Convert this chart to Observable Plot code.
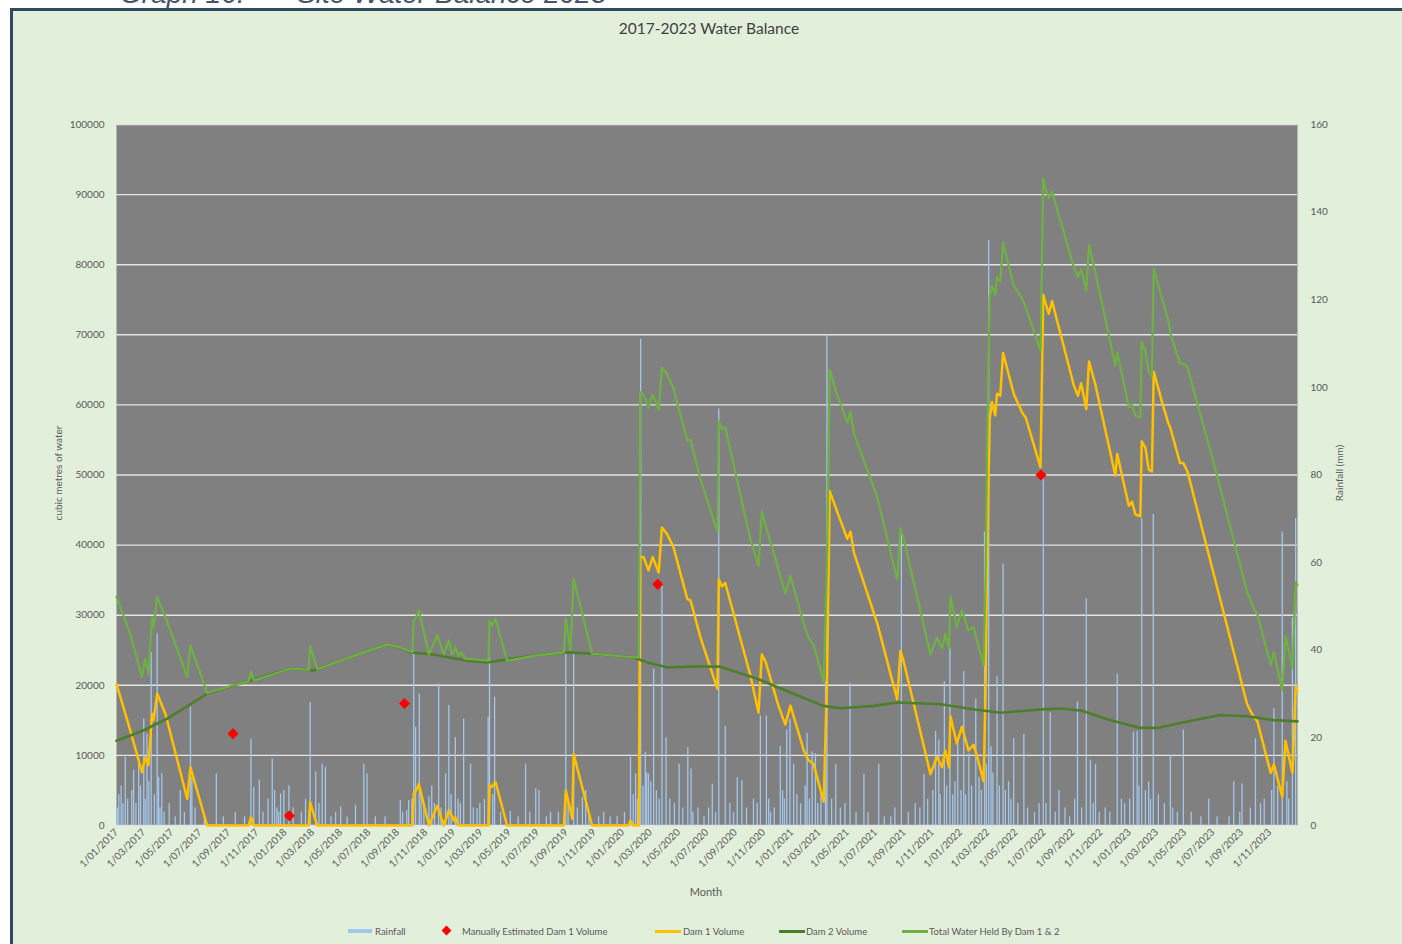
<!DOCTYPE html>
<html><head><meta charset="utf-8">
<script src="https://cdn.jsdelivr.net/npm/d3@7"></script>
<script src="https://cdn.jsdelivr.net/npm/@observablehq/plot@0.6"></script>
<style>
html,body{margin:0;padding:0;background:#fff;width:1402px;height:944px;overflow:hidden;font-family:Lato,"Open Sans",sans-serif;}
#frame{position:absolute;left:10px;top:8px;width:1400px;height:950px;border:3px solid #2f4a5c;background:#e2efda;box-sizing:border-box;}
.cap{position:absolute;top:-20px;font:italic 28px "Liberation Sans",Arial,sans-serif;line-height:28px;color:#44546a;white-space:pre;}
#chart{position:absolute;left:0;top:0;}
#title{position:absolute;left:0;width:1418px;top:19px;text-align:center;font-size:15.5px;color:#404040;}
.atitle{position:absolute;font-size:10px;color:#595959;white-space:nowrap;transform:translate(-50%,-50%) rotate(-90deg);}
#month{position:absolute;left:706px;top:891px;transform:translate(-50%,-50%);font-size:11px;color:#595959;}
.lt{position:absolute;top:931px;transform:translateY(-50%);font-size:9.5px;color:#595959;white-space:nowrap;}
.sw{position:absolute;}
</style></head>
<body>
<div class="cap" style="left:120px">Graph 16:</div>
<div class="cap" style="left:297px">Site Water Balance 2023</div>
<div id="frame"></div>
<div id="chart"></div>
<div id="title">2017-2023 Water Balance</div>
<div class="atitle" style="left:58px;top:473px">cubic metres of water</div>
<div class="atitle" style="left:1339px;top:473px">Rainfall (mm)</div>
<div id="month">Month</div>
<span class="sw" style="left:348px;top:929px;width:24px;height:4px;background:#a3c6ea"></span>
<span class="lt" style="left:375px">Rainfall</span>
<span class="sw" style="left:443px;top:927px;width:7px;height:7px;background:#ff0000;transform:rotate(45deg)"></span>
<span class="lt" style="left:462px">Manually Estimated Dam 1 Volume</span>
<span class="sw" style="left:655px;top:930px;width:26px;height:2.5px;background:#ffc000"></span>
<span class="lt" style="left:683px">Dam 1 Volume</span>
<span class="sw" style="left:779px;top:930px;width:26px;height:2.5px;background:#4f7e2b"></span>
<span class="lt" style="left:806px">Dam 2 Volume</span>
<span class="sw" style="left:902px;top:930px;width:26px;height:2.5px;background:#6fb043"></span>
<span class="lt" style="left:929px">Total Water Held By Dam 1 &amp; 2</span>
<script>
const volTicks = [0,10000,20000,30000,40000,50000,60000,70000,80000,90000,100000];
const rainTicks = [0,20,40,60,80,100,120,140,160];
const xTickLabels = ["1/01/2017","1/03/2017","1/05/2017","1/07/2017","1/09/2017","1/11/2017",
"1/01/2018","1/03/2018","1/05/2018","1/07/2018","1/09/2018","1/11/2018",
"1/01/2019","1/03/2019","1/05/2019","1/07/2019","1/09/2019","1/11/2019",
"1/01/2020","1/03/2020","1/05/2020","1/07/2020","1/09/2020","1/11/2020",
"1/01/2021","1/03/2021","1/05/2021","1/07/2021","1/09/2021","1/11/2021",
"1/01/2022","1/03/2022","1/05/2022","1/07/2022","1/09/2022","1/11/2022",
"1/01/2023","1/03/2023","1/05/2023","1/07/2023","1/09/2023","1/11/2023"];

const dam1 = [["2017-01-01",20200],["2017-01-31",13500],["2017-02-25",7600],["2017-03-04",9700],["2017-03-11",8600],["2017-03-19",15900],["2017-03-22",15000],["2017-03-30",18800],["2017-04-17",15900],["2017-06-03",3800],["2017-06-10",8300],["2017-07-16",0],["2017-10-14",0],["2017-10-19",1200],["2017-10-25",0],["2018-02-21",0],["2018-02-24",3300],["2018-03-11",0],["2018-10-03",0],["2018-10-06",4500],["2018-10-13",5200],["2018-10-17",5900],["2018-11-08",0],["2018-11-26",2800],["2018-12-10",0],["2018-12-21",2200],["2019-01-01",700],["2019-01-04",1200],["2019-01-11",0],["2019-03-17",0],["2019-03-19",5700],["2019-03-24",5500],["2019-04-01",6200],["2019-04-26",0],["2019-08-27",0],["2019-08-31",5000],["2019-09-14",950],["2019-09-17",10200],["2019-10-27",0],["2020-01-14",0],["2020-01-18",700],["2020-01-24",0],["2020-02-05",0],["2020-02-08",38300],["2020-02-15",38300],["2020-02-26",36400],["2020-03-06",38300],["2020-03-19",36100],["2020-03-26",42500],["2020-04-06",41600],["2020-04-20",39700],["2020-05-20",32300],["2020-05-27",32100],["2020-06-17",26900],["2020-07-24",19500],["2020-07-27",35100],["2020-08-03",34100],["2020-08-10",34600],["2020-10-03",21500],["2020-10-21",16100],["2020-10-28",24400],["2020-11-05",23400],["2020-12-03",17100],["2020-12-18",14400],["2020-12-29",17100],["2021-01-27",10700],["2021-02-06",9300],["2021-02-17",8800],["2021-03-11",3400],["2021-03-18",20000],["2021-03-24",47700],["2021-04-09",44800],["2021-05-01",40900],["2021-05-08",41900],["2021-05-15",39000],["2021-07-05",28800],["2021-08-17",18000],["2021-08-24",24900],["2021-08-31",23400],["2021-10-28",7300],["2021-11-11",9800],["2021-11-22",8300],["2021-11-29",10700],["2021-12-07",8300],["2021-12-10",15600],["2021-12-24",11700],["2022-01-04",14100],["2022-01-18",10700],["2022-01-29",11500],["2022-02-06",9800],["2022-02-20",6300],["2022-02-24",18500],["2022-02-27",35800],["2022-03-05",57900],["2022-03-10",60400],["2022-03-17",58500],["2022-03-21",61600],["2022-03-28",61300],["2022-04-03",67400],["2022-04-26",61600],["2022-05-15",58800],["2022-05-22",58200],["2022-06-23",51100],["2022-06-29",75700],["2022-07-04",74500],["2022-07-11",73000],["2022-07-18",74800],["2022-09-03",62800],["2022-09-12",61300],["2022-09-19",63100],["2022-09-30",59400],["2022-10-06",66200],["2022-10-20",62800],["2022-12-02",49900],["2022-12-06",53000],["2022-12-31",45600],["2023-01-07",46200],["2023-01-14",44400],["2023-01-25",44100],["2023-01-28",54800],["2023-02-05",53900],["2023-02-12",50800],["2023-02-19",50500],["2023-02-23",64700],["2023-03-13",60400],["2023-03-27",57300],["2023-03-31",56700],["2023-04-21",51700],["2023-04-28",51700],["2023-05-07",50500],["2023-07-03",35800],["2023-09-13",17300],["2023-09-27",15500],["2023-10-05",14900],["2023-11-03",7500],["2023-11-10",8700],["2023-11-28",4100],["2023-12-02",8700],["2023-12-05",12100],["2023-12-16",8700],["2023-12-20",7500],["2023-12-23",12400],["2023-12-27",19800],["2023-12-31",19200]];

const dam2 = [["2017-01-01",12100],["2017-02-28",13550],["2017-04-21",15260],["2017-07-17",18830],["2017-10-03",20400],["2018-01-12",22400],["2018-03-03",22100],["2018-06-20",24700],["2018-08-10",25800],["2018-09-07",25400],["2018-09-29",24700],["2018-11-17",24400],["2019-01-30",23500],["2019-03-14",23250],["2019-06-22",24250],["2019-09-04",24700],["2019-10-29",24500],["2020-01-24",24000],["2020-02-24",23250],["2020-04-07",22550],["2020-05-25",22660],["2020-07-30",22660],["2020-10-17",20960],["2020-12-28",19000],["2021-03-10",17060],["2021-04-16",16720],["2021-06-27",17060],["2021-08-18",17550],["2021-11-20",17300],["2022-01-28",16580],["2022-03-28",16090],["2022-06-25",16560],["2022-08-07",16700],["2022-09-21",16380],["2022-11-14",15150],["2023-01-25",13920],["2023-03-03",13920],["2023-05-07",14850],["2023-07-17",15770],["2023-09-13",15590],["2023-11-10",15030],["2023-12-31",14850]];

const total = [["2017-01-01",32600],["2017-01-31",27300],["2017-02-25",21200],["2017-03-04",23800],["2017-03-11",21600],["2017-03-19",29700],["2017-03-22",28300],["2017-03-30",32600],["2017-04-17",29700],["2017-06-03",21200],["2017-06-10",25700],["2017-07-16",18900],["2017-10-03",20400],["2017-10-14",20600],["2017-10-19",21900],["2017-10-25",20700],["2018-01-12",22400],["2018-02-21",22200],["2018-02-24",25600],["2018-03-11",22300],["2018-06-20",24700],["2018-08-10",25800],["2018-09-07",25400],["2018-10-03",24700],["2018-10-06",29200],["2018-10-13",30000],["2018-10-17",30700],["2018-11-08",24400],["2018-11-26",27100],["2018-12-10",24400],["2018-12-21",26400],["2018-12-28",24400],["2019-01-04",25400],["2019-01-11",24200],["2019-01-18",24700],["2019-01-25",23800],["2019-03-17",23500],["2019-03-19",29200],["2019-03-24",28500],["2019-04-01",29500],["2019-04-26",23500],["2019-06-22",24200],["2019-08-27",24700],["2019-08-31",29500],["2019-09-10",25000],["2019-09-17",35200],["2019-10-27",24500],["2020-01-24",24000],["2020-02-05",24000],["2020-02-08",61800],["2020-02-15",61500],["2020-02-26",59600],["2020-03-06",61500],["2020-03-19",59300],["2020-03-26",65300],["2020-04-06",64400],["2020-04-20",62300],["2020-05-20",54900],["2020-05-27",55000],["2020-06-17",49500],["2020-07-24",41900],["2020-07-27",57700],["2020-08-03",56500],["2020-08-10",56800],["2020-10-03",40900],["2020-10-21",37000],["2020-10-28",44800],["2020-11-05",42900],["2020-12-03",36500],["2020-12-18",33100],["2020-12-29",35600],["2021-01-27",28800],["2021-02-06",26800],["2021-02-17",25800],["2021-03-11",20500],["2021-03-18",37000],["2021-03-24",65000],["2021-04-09",61400],["2021-05-01",57500],["2021-05-08",59000],["2021-05-15",56000],["2021-07-05",46800],["2021-08-17",35100],["2021-08-24",42400],["2021-08-31",40900],["2021-10-28",24400],["2021-11-11",26800],["2021-11-22",25300],["2021-11-29",27300],["2021-12-07",25300],["2021-12-10",32700],["2021-12-24",28300],["2022-01-04",30700],["2022-01-18",27800],["2022-01-29",28300],["2022-02-06",26300],["2022-02-20",22900],["2022-02-24",35000],["2022-02-27",52300],["2022-03-05",75500],["2022-03-10",77000],["2022-03-17",75700],["2022-03-21",78200],["2022-03-28",77600],["2022-04-03",83100],["2022-04-26",77000],["2022-05-15",75100],["2022-05-22",73900],["2022-06-23",67700],["2022-06-29",92300],["2022-07-04",90800],["2022-07-11",89500],["2022-07-18",90400],["2022-09-03",79700],["2022-09-12",78200],["2022-09-19",79400],["2022-09-30",76300],["2022-10-06",82800],["2022-10-20",78800],["2022-12-02",65600],["2022-12-06",67500],["2022-12-31",59700],["2023-01-07",60000],["2023-01-14",58500],["2023-01-25",58200],["2023-01-28",69000],["2023-02-05",67700],["2023-02-12",64700],["2023-02-19",64100],["2023-02-23",79400],["2023-03-13",75100],["2023-03-27",72000],["2023-03-31",70200],["2023-04-21",65900],["2023-04-28",65900],["2023-05-07",65300],["2023-07-03",51700],["2023-09-13",33300],["2023-09-27",31000],["2023-10-05",30200],["2023-11-03",22900],["2023-11-10",24700],["2023-11-28",19300],["2023-12-02",23700],["2023-12-05",27100],["2023-12-16",23700],["2023-12-20",22400],["2023-12-23",27300],["2023-12-27",34700],["2023-12-31",34300]];

const estimated = [["2017-09-10",13100],["2018-01-10",1400],["2018-09-16",17400],["2020-03-17",34400],["2022-06-24",50000]];

const rainfall = [["2017-01-03",4],["2017-01-06",7],["2017-01-11",9],["2017-01-15",5],["2017-01-20",15.6],["2017-01-25",6],["2017-02-03",8],["2017-02-07",12.6],["2017-02-12",5],["2017-02-18",14],["2017-02-22",9],["2017-03-01",24.3],["2017-03-04",6],["2017-03-08",20.9],["2017-03-12",10],["2017-03-17",39.5],["2017-03-24",7],["2017-03-30",43.7],["2017-04-02",11],["2017-04-05",4],["2017-04-09",11.8],["2017-04-14",3],["2017-04-25",5],["2017-05-08",2],["2017-05-19",8],["2017-05-28",3],["2017-06-10",27],["2017-06-13",11],["2017-06-20",4],["2017-07-10",2],["2017-08-05",11.8],["2017-08-20",2],["2017-09-15",3],["2017-10-05",2],["2017-10-19",19.7],["2017-10-25",8.7],["2017-11-06",10.3],["2017-11-14",3],["2017-11-25",6],["2017-12-04",15.2],["2017-12-09",8],["2017-12-14",4],["2017-12-18",3],["2017-12-22",7.2],["2017-12-29",8],
["2018-01-09",9.1],["2018-01-18",4],["2018-02-05",3],["2018-02-14",6],["2018-02-24",28.1],["2018-03-08",12.2],["2018-03-15",5],["2018-03-22",14],["2018-03-29",13.3],["2018-04-10",2],["2018-04-20",3],["2018-05-01",4.2],["2018-05-15",2],["2018-06-02",4.6],["2018-06-20",14],["2018-06-27",11.8],["2018-07-15",2],["2018-08-05",2],["2018-09-07",5.7],["2018-09-12",3],["2018-09-21",3.4],["2018-09-25",5.7],["2018-10-02",6],["2018-10-06",39.9],["2018-10-10",22.4],["2018-10-18",30],["2018-10-22",8],["2018-10-28",5],["2018-11-08",6.5],["2018-11-14",9],["2018-11-20",5],["2018-11-29",32.3],["2018-12-04",4],["2018-12-14",11.8],["2018-12-21",27.4],["2018-12-26",7],
["2019-01-04",20.1],["2019-01-10",6],["2019-01-15",5],["2019-01-22",24.3],["2019-02-06",14],["2019-02-12",4],["2019-02-20",3.9],["2019-02-26",5],["2019-03-08",6],["2019-03-16",24.7],["2019-03-19",38.4],["2019-03-26",7],["2019-03-30",29.3],["2019-04-12",3],["2019-05-03",3.2],["2019-05-20",2],["2019-06-05",14],["2019-06-14",3],["2019-06-27",8.4],["2019-07-04",8],["2019-07-20",2],["2019-07-29",3],["2019-08-15",3],["2019-08-31",39.1],["2019-09-05",6],["2019-09-17",39.1],["2019-09-25",4],["2019-10-06",6.4],["2019-10-13",8],["2019-10-20",3],["2019-11-10",2],["2019-11-21",3],["2019-12-05",2],["2019-12-20",2],
["2020-01-05",3],["2020-01-18",15.6],["2020-01-24",7],["2020-01-29",11.8],["2020-02-02",6],["2020-02-09",111],["2020-02-14",9],["2020-02-19",16.7],["2020-02-22",12],["2020-02-26",11.8],["2020-03-02",10],["2020-03-08",35.7],["2020-03-14",8],["2020-03-20",6],["2020-03-26",55.2],["2020-04-04",20.1],["2020-04-12",6],["2020-04-22",5],["2020-05-02",14],["2020-05-10",4],["2020-05-21",17.8],["2020-05-28",12.9],["2020-06-01",3],["2020-06-12",4],["2020-06-25",2],["2020-07-05",4],["2020-07-13",9.4],["2020-07-20",3],["2020-07-27",95.1],["2020-08-10",22.6],["2020-08-20",5],["2020-08-28",3],["2020-09-05",10.9],["2020-09-15",10.2],["2020-09-25",4],["2020-10-10",6],["2020-10-18",5],["2020-10-25",25],["2020-11-07",25],["2020-11-12",6],["2020-11-16",3],["2020-11-24",4],["2020-12-07",18],["2020-12-12",8],["2020-12-16",6],["2020-12-21",21.8],["2020-12-28",24.2],
["2021-01-05",14],["2021-01-12",7],["2021-01-20",5],["2021-01-30",9],["2021-02-03",21],["2021-02-08",6],["2021-02-14",16.8],["2021-02-21",16.4],["2021-02-26",5],["2021-03-05",8],["2021-03-15",32.8],["2021-03-18",112],["2021-03-28",6],["2021-04-06",14],["2021-04-16",4],["2021-04-26",5],["2021-05-07",32.4],["2021-05-20",3],["2021-06-06",11.7],["2021-06-15",3],["2021-07-08",14],["2021-07-20",2],["2021-08-03",2],["2021-08-12",4],["2021-08-26",66.3],["2021-09-10",3],["2021-09-25",5],["2021-10-05",4],["2021-10-14",11.7],["2021-10-22",6],["2021-11-02",8],["2021-11-08",21.5],["2021-11-15",19.5],["2021-11-18",7],["2021-11-27",32.8],["2021-12-02",9],["2021-12-09",40.5],["2021-12-15",7],["2021-12-20",10],["2021-12-26",19.5],
["2022-01-02",8],["2022-01-08",35.1],["2022-01-12",7],["2022-01-19",16.4],["2022-01-25",9],["2022-02-03",28.9],["2022-02-10",11],["2022-02-15",8],["2022-02-22",67],["2022-02-26",14],["2022-03-03",133.5],["2022-03-08",18],["2022-03-12",12],["2022-03-21",34],["2022-03-26",9],["2022-04-03",59.7],["2022-04-08",8],["2022-04-15",10],["2022-04-20",6],["2022-04-26",19.8],["2022-05-05",5],["2022-05-18",20.8],["2022-05-26",4],["2022-06-10",3],["2022-06-20",5],["2022-06-29",79],["2022-07-05",5],["2022-07-14",25.7],["2022-07-25",3],["2022-08-02",8],["2022-08-15",4],["2022-08-25",2],["2022-09-05",6],["2022-09-11",28.2],["2022-09-20",4],["2022-09-30",51.8],["2022-10-09",14.9],["2022-10-15",5],["2022-10-20",13.9],["2022-10-28",3],["2022-11-10",4],["2022-11-20",3],["2022-12-06",34.6],["2022-12-15",6],["2022-12-22",5],
["2023-01-02",6],["2023-01-10",21.3],["2023-01-18",21.5],["2023-01-22",9],["2023-01-28",70],["2023-02-05",8],["2023-02-12",10],["2023-02-16",6],["2023-02-22",71],["2023-03-05",7],["2023-03-18",5],["2023-03-31",15.9],["2023-04-05",4],["2023-04-15",3],["2023-04-28",21.8],["2023-05-15",3],["2023-06-05",2],["2023-06-22",6],["2023-07-10",2],["2023-08-05",2],["2023-08-15",10],["2023-08-28",3],["2023-09-02",9.5],["2023-09-20",4],["2023-10-01",19.8],["2023-10-12",5],["2023-10-20",6],["2023-11-05",8],["2023-11-10",26.7],["2023-11-18",9],["2023-11-28",67],["2023-12-08",10],["2023-12-12",6],["2023-12-20",47.4],["2023-12-27",70]];

const VOL_MAX = 100000, RAIN_MAX = 160;
const rainToVol = VOL_MAX / RAIN_MAX;
const parse = s => new Date(s + "T00:00:00Z");
const toRows = arr => arr.map(([d, v]) => ({date: parse(d), v}));
const parseTick = d3.utcParse("%d/%m/%Y");
const xTicks = xTickLabels.map(parseTick);
const tickLabelMap = new Map(xTicks.map((d, i) => [+d, xTickLabels[i]]));

const chart = Plot.plot({
  width: 1402, height: 944,
  marginLeft: 116, marginRight: 105, marginTop: 124, marginBottom: 119,
  style: {background: "transparent", color: "#595959", fontFamily: "Lato, 'Open Sans', sans-serif", fontSize: "10px"},
  x: {type: "utc", domain: [parse("2017-01-01"), parse("2023-12-31")]},
  y: {domain: [0, VOL_MAX]},
  marks: [
    Plot.frame({fill: "#808080", stroke: "none"}),
    Plot.gridY(volTicks, {stroke: "#e4e4e4", strokeOpacity: 1, strokeWidth: 1.4}),
    Plot.ruleX(toRows(rainfall), {x: "date", y1: 0, y2: d => d.v * rainToVol, stroke: "#a3c6ea", strokeWidth: 1.3}),
    Plot.line(toRows(dam1), {x: "date", y: "v", stroke: "#ffc000", strokeWidth: 2.5}),
    Plot.line(toRows(dam2), {x: "date", y: "v", stroke: "#4f7e2b", strokeWidth: 2.6}),
    Plot.line(toRows(total), {x: "date", y: "v", stroke: "#6fb043", strokeWidth: 2.2}),
    Plot.dot(toRows(estimated), {x: "date", y: "v", symbol: "diamond2", r: 5, fill: "#ff0000", stroke: "none"}),
    Plot.axisY(volTicks, {anchor: "left", tickSize: 0, tickPadding: 12, tickFormat: d => String(d), label: null}),
    Plot.axisY(rainTicks.map(v => v * rainToVol), {anchor: "right", tickSize: 0, tickPadding: 13, tickFormat: v => String(Math.round(v / rainToVol)), label: null}),
    Plot.axisX(xTicks, {anchor: "bottom", tickSize: 0, tickPadding: 5, tickRotate: -45, tickFormat: d => tickLabelMap.get(+d), label: null})
  ]
});
document.getElementById("chart").appendChild(chart);
</script>
</body></html>
